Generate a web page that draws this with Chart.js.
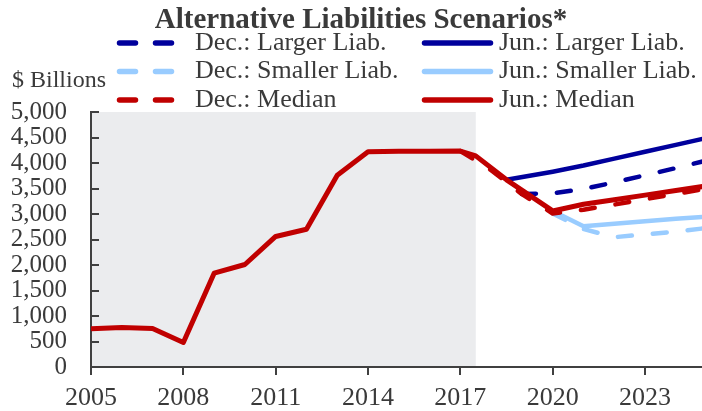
<!DOCTYPE html>
<html>
<head>
<meta charset="utf-8">
<title>Alternative Liabilities Scenarios</title>
<script src="https://cdn.jsdelivr.net/npm/chart.js@4.4.1/dist/chart.umd.min.js"></script>
<style>
  html, body { margin: 0; padding: 0; background: #ffffff; }
  #wrap { width: 702px; height: 411px; }
</style>
</head>
<body>
<div id="wrap"><canvas id="chart" width="702" height="411"></canvas></div>
<script>
// ---- Data ($ billions) ----
// Realized holdings, annual
const histYears  = [2005, 2006, 2007, 2008, 2009, 2010, 2011, 2012, 2013, 2014, 2015, 2016, 2017];
const histValues = [750, 775, 755, 480, 1840, 2010, 2560, 2700, 3760, 4220, 4228, 4232, 4235];

// December projections
const decLargerYears   = [2019, 2020, 2021, 2022, 2023, 2024, 2025];
const decLargerValues  = [3390, 3405, 3490, 3620, 3760, 3900, 4050];
const decSmallerYears  = [2020, 2021, 2022, 2023, 2024, 2025];
const decSmallerValues = [3010, 2705, 2545, 2600, 2655, 2725];
const decMedianYears   = [2017, 2018, 2019, 2020, 2021, 2022, 2023, 2024, 2025];
const decMedianValues  = [4235, 3860, 3390, 3010, 3085, 3185, 3290, 3395, 3495];

// June projections
const junLargerYears   = [2018.5, 2020, 2021, 2022, 2023, 2024, 2025];
const junLargerValues  = [3670, 3830, 3950, 4085, 4220, 4355, 4490];
const junSmallerYears  = [2020, 2021, 2022, 2023, 2024, 2025];
const junSmallerValues = [3060, 2760, 2810, 2860, 2905, 2950];
const junMedianYears   = [2017.5, 2018.5, 2020, 2021, 2022, 2023, 2024, 2025];
const junMedianValues  = [4140, 3670, 3060, 3190, 3280, 3370, 3460, 3550];

// Axis ticks and shaded (realized) period
const xTickYears = [2005, 2008, 2011, 2014, 2017, 2020, 2023];
const xRange = [2005, 2024.85];
const yRange = [0, 5000];
const yStep = 500;
const shadedPeriod = [2005, 2017.5];

const labels = {
  title: 'Alternative Liabilities Scenarios*',
  unit: '$ Billions'
};

const COLORS = {
  darkBlue: '#00009C',
  lightBlue: '#99CCFF',
  red: '#C00000',
  text: '#3a3a3a',
  axis: '#404040',
  shade: '#EBECEE'
};

const toPoints = (xs, ys) => xs.map((x, i) => ({ x: x, y: ys[i] }));

const DASH = [14, 21];
function lineSet(label, xs, ys, color, dashed, order, width) {
  return {
    label: label,
    data: toPoints(xs, ys),
    borderColor: color,
    backgroundColor: color,
    borderWidth: width || 4.5,
    borderDash: dashed ? DASH : [],
    borderCapStyle: dashed ? 'round' : 'butt',
    borderJoinStyle: 'round',
    pointRadius: 0,
    pointHoverRadius: 0,
    fill: false,
    tension: 0,
    order: order,
    dashedKey: dashed
  };
}

const datasets = [
  lineSet('Dec.: Larger Liab.',  decLargerYears,  decLargerValues,  COLORS.darkBlue,  true, 3),
  lineSet('Dec.: Smaller Liab.', decSmallerYears, decSmallerValues, COLORS.lightBlue, true, 4),
  lineSet('Dec.: Median',        decMedianYears,  decMedianValues,  COLORS.red,       true, 1),
  lineSet('Jun.: Larger Liab.',  junLargerYears,  junLargerValues,  COLORS.darkBlue,  false, 2),
  lineSet('Jun.: Smaller Liab.', junSmallerYears, junSmallerValues, COLORS.lightBlue, false, 5),
  lineSet('Jun.: Median',
          histYears.concat(junMedianYears),
          histValues.concat(junMedianValues),
          COLORS.red, false, 0, 5)
];

const SERIF = '"Liberation Serif", "Times New Roman", Times, serif';

// Shaded realized period, painted under axes and lines
const shadePlugin = {
  id: 'shade',
  beforeDraw(chart) {
    const { ctx, scales: { x, y } } = chart;
    const x0 = x.getPixelForValue(shadedPeriod[0]);
    const x1 = x.getPixelForValue(shadedPeriod[1]);
    const y0 = y.getPixelForValue(yRange[1]);
    const y1 = y.getPixelForValue(yRange[0]);
    ctx.save();
    ctx.fillStyle = COLORS.shade;
    ctx.fillRect(x0, y0, x1 - x0, y1 - y0);
    ctx.restore();
  }
};

// Inward tick marks on the value axis
const innerTicksPlugin = {
  id: 'innerTicks',
  afterDraw(chart) {
    const { ctx, scales: { y }, chartArea } = chart;
    ctx.save();
    ctx.strokeStyle = COLORS.axis;
    ctx.lineWidth = 2;
    y.ticks.forEach(t => {
      const py = Math.round(y.getPixelForValue(t.value));
      ctx.beginPath();
      ctx.moveTo(chartArea.left, py);
      ctx.lineTo(chartArea.left + 8, py);
      ctx.stroke();
    });
    ctx.restore();
  }
};

// Title, unit label and two-column legend
const headerPlugin = {
  id: 'header',
  afterDraw(chart) {
    const ctx = chart.ctx;
    ctx.save();
    ctx.fillStyle = COLORS.text;

    ctx.font = 'bold 29px ' + SERIF;
    ctx.textAlign = 'center';
    ctx.textBaseline = 'alphabetic';
    ctx.fillText(labels.title, 361, 28);

    ctx.font = '24px ' + SERIF;
    ctx.textAlign = 'left';
    ctx.fillText(labels.unit, 12, 86.5);

    const rowY = [43, 71.5, 100];
    const cols = [
      { x0: 119.5, x1: 171.5, textX: 195 },
      { x0: 424.5, x1: 490.5, textX: 499 }
    ];
    ctx.font = '26px ' + SERIF;
    ctx.textBaseline = 'middle';
    chart.data.datasets.forEach((ds, i) => {
      const col = cols[Math.floor(i / 3)];
      const yy = rowY[i % 3];
      ctx.beginPath();
      ctx.strokeStyle = ds.borderColor;
      ctx.lineWidth = 5.5;
      ctx.lineCap = 'round';
      ctx.setLineDash(ds.dashedKey ? [16, 20] : []);
      ctx.moveTo(col.x0, yy);
      ctx.lineTo(col.x1, yy);
      ctx.stroke();
      ctx.setLineDash([]);
      ctx.fillStyle = COLORS.text;
      ctx.fillText(ds.label, col.textX, yy);
    });
    ctx.restore();
  }
};

new Chart(document.getElementById('chart'), {
  type: 'line',
  data: { datasets: datasets },
  plugins: [shadePlugin, innerTicksPlugin, headerPlugin],
  options: {
    responsive: false,
    animation: false,
    events: [],
    layout: { padding: { top: 112, left: 0, right: 0, bottom: 0 } },
    plugins: {
      legend: { display: false },
      title: { display: false },
      tooltip: { enabled: false }
    },
    scales: {
      x: {
        type: 'linear',
        min: xRange[0],
        max: xRange[1],
        afterBuildTicks: s => { s.ticks = xTickYears.map(v => ({ value: v })); },
        afterFit: s => { s.height = 44; },
        grid: {
          display: true,
          drawOnChartArea: false,
          drawTicks: true,
          tickLength: 8,
          color: COLORS.axis,
          lineWidth: 2
        },
        border: { display: true, color: COLORS.axis, width: 2 },
        ticks: {
          autoSkip: false,
          maxRotation: 0,
          padding: 8,
          color: COLORS.text,
          font: { family: SERIF, size: 26 },
          callback: v => String(v)
        }
      },
      y: {
        type: 'linear',
        min: yRange[0],
        max: yRange[1],
        afterFit: s => { s.width = 91; },
        grid: { display: false, drawTicks: false },
        border: { display: true, color: COLORS.axis, width: 2 },
        ticks: {
          stepSize: yStep,
          autoSkip: false,
          padding: 24,
          color: COLORS.text,
          font: { family: SERIF, size: 25 },
          callback: v => Number(v).toLocaleString('en-US')
        }
      }
    }
  }
});
</script>
</body>
</html>
